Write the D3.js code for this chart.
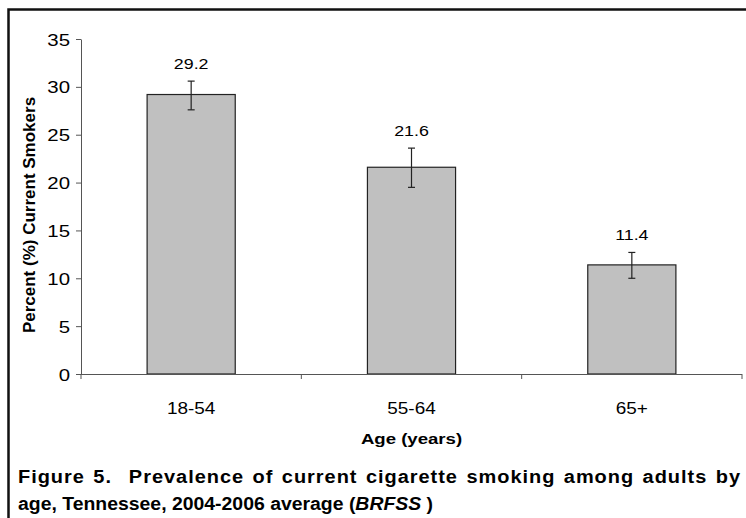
<!DOCTYPE html>
<html><head><meta charset="utf-8">
<script src="https://cdn.jsdelivr.net/npm/d3@7"></script>
<style>body{margin:0;background:#fff}svg{display:block}</style>
</head><body>
<svg id="c" width="746" height="518"></svg>
<script>
(function(){
const categories = ["18-54", "55-64", "65+"];
const values = [29.2, 21.6, 11.4];
const errLow = [27.6, 19.5, 10.0];
const errHigh = [30.6, 23.6, 12.7];
const yTicks = [0, 5, 10, 15, 20, 25, 30, 35];

const svg = d3.select("#c");
const font = "Liberation Sans, Arial, sans-serif";
// frame
svg.append("path").attr("d", "M8.5,518 V9.5 H746").attr("fill", "none").attr("stroke", "#111").attr("stroke-width", 2.5);

const pl = 81, pr = 742, pt = 39, pb = 374;
const x = d3.scaleBand().domain(categories).range([pl, pr]).paddingInner(0.6).paddingOuter(0.3);
const y = d3.scaleLinear().domain([0, 35]).range([pb, pt]);

// y axis
const ya = svg.append("g").attr("transform", `translate(${pl},0)`)
  .call(d3.axisLeft(y).tickValues(yTicks).tickSize(5).tickPadding(6).tickSizeOuter(0));
ya.select(".domain").attr("stroke", "#555");
ya.selectAll(".tick line").attr("stroke", "#555");
ya.selectAll(".tick text").attr("font-family", font).attr("font-size", 17).attr("fill", "#000")
  .attr("x", null).attr("dy", null)
  .attr("transform", "translate(-11,6) scale(1.2,1)");

// bars
svg.append("g").selectAll("rect").data(categories).join("rect")
  .attr("x", d => x(d)).attr("width", x.bandwidth())
  .attr("y", (d, i) => y(values[i])).attr("height", (d, i) => y(0) - y(values[i]))
  .attr("fill", "#c0c0c0").attr("stroke", "#222").attr("stroke-width", 1.2);

// x axis
const step = (pr - pl) / categories.length;
svg.append("line").attr("x1", pl).attr("x2", pr).attr("y1", pb + 0.5).attr("y2", pb + 0.5).attr("stroke", "#555");
d3.range(categories.length + 1).forEach(i => {
  svg.append("line").attr("x1", pl + i * step).attr("x2", pl + i * step)
    .attr("y1", pb).attr("y2", pb + 5).attr("stroke", "#555");
});
svg.append("g").selectAll("text").data(categories).join("text")
  .attr("transform", d => `translate(${x(d) + x.bandwidth() / 2},414) scale(1.15,1)`)
  .attr("text-anchor", "middle").attr("font-family", font).attr("font-size", 16.5).text(d => d);

// error bars
const eb = svg.append("g").attr("stroke", "#222").attr("stroke-width", 1.2);
categories.forEach((c, i) => {
  const cx = x(c) + x.bandwidth() / 2;
  eb.append("line").attr("x1", cx).attr("x2", cx).attr("y1", y(errHigh[i])).attr("y2", y(errLow[i]));
  eb.append("line").attr("x1", cx - 3.5).attr("x2", cx + 3.5).attr("y1", y(errHigh[i])).attr("y2", y(errHigh[i]));
  eb.append("line").attr("x1", cx - 3.5).attr("x2", cx + 3.5).attr("y1", y(errLow[i])).attr("y2", y(errLow[i]));
});
// value labels
svg.append("g").selectAll("text").data(categories).join("text")
  .attr("transform", (d, i) => `translate(${x(d) + x.bandwidth() / 2},${y(errHigh[i]) - 12}) scale(1.15,1)`)
  .attr("text-anchor", "middle").attr("font-family", font).attr("font-size", 15.5)
  .text((d, i) => values[i].toFixed(1));

// axis titles
svg.append("text").attr("transform", "translate(34.5,215) rotate(-90)")
  .attr("text-anchor", "middle").attr("font-family", font).attr("font-size", 17).attr("font-weight", "bold")
  .text("Percent (%) Current Smokers");
svg.append("text").attr("transform", `translate(${(pl + pr) / 2},444) scale(1.2,1)`)
  .attr("text-anchor", "middle").attr("font-family", font).attr("font-size", 15.5).attr("font-weight", "bold")
  .text("Age (years)");

// caption
const sx1 = 1.08;
const cap1 = svg.append("text").attr("transform", `translate(18,483) scale(${sx1},1)`).attr("font-family", font)
  .attr("font-size", 18.5).attr("font-weight", "bold").attr("xml:space", "preserve")
  .attr("letter-spacing", 0.9)
  .text("Figure 5.  Prevalence of current cigarette smoking among adults by");
const w = cap1.node().getComputedTextLength();
const gaps = 10;
cap1.attr("word-spacing", Math.max(0, ((741 - 18) / sx1 - w) / gaps));
const cap2 = svg.append("text").attr("transform", "translate(18,510) scale(1.05,1)").attr("font-family", font)
  .attr("font-size", 18.5).attr("font-weight", "bold");
cap2.append("tspan").text("age, Tennessee, 2004-2006 average (");
cap2.append("tspan").attr("font-style", "italic").text("BRFSS");
cap2.append("tspan").text(" )");
})();
</script>
</body></html>
